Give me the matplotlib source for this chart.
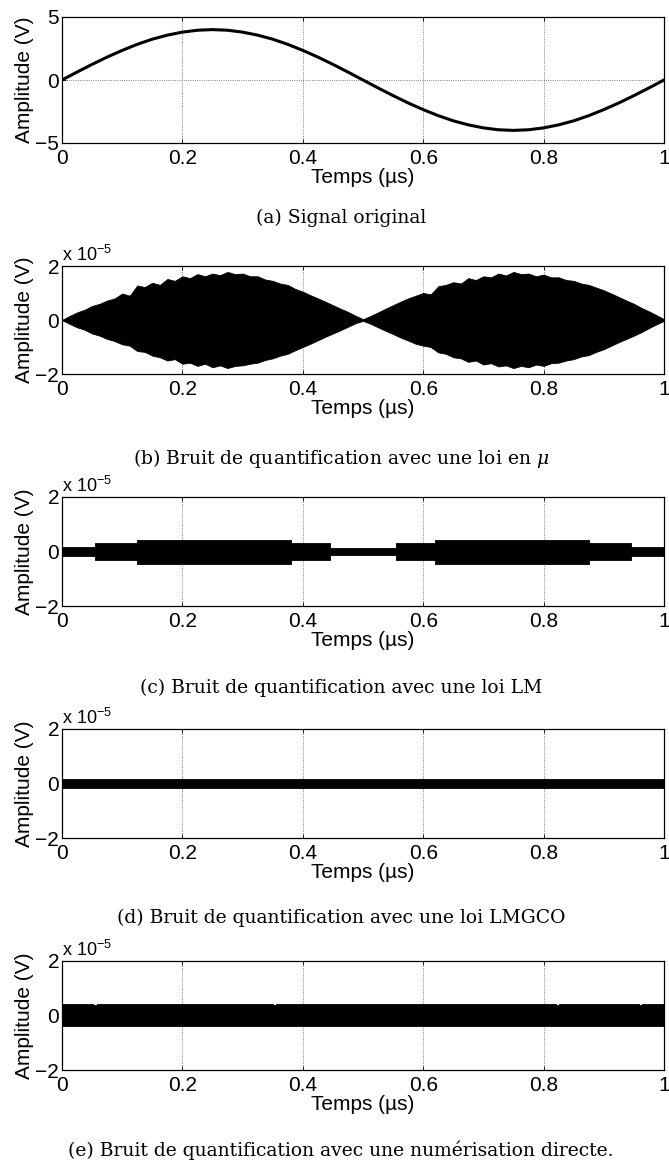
import matplotlib
matplotlib.use("Agg")
import matplotlib.pyplot as plt
import numpy as np

plt.rcParams['font.family'] = ['Liberation Sans', 'DejaVu Sans']
plt.rcParams['mathtext.fontset'] = 'custom'
plt.rcParams['mathtext.rm'] = 'Liberation Sans'
plt.rcParams['mathtext.it'] = 'Liberation Sans:italic'

# time grids of the samples (µs)
t_a = np.linspace(0, 1, 41)
t_b = np.linspace(0, 1, 81)

# (a) original signal, volts
signal_a = [0.0, 0.63, 1.24, 1.82, 2.35, 2.83, 3.24, 3.56, 3.80, 3.95,
            4.0, 3.95, 3.80, 3.56, 3.24, 2.83, 2.35, 1.82, 1.24, 0.63,
            0.0, -0.63, -1.24, -1.82, -2.35, -2.83, -3.24, -3.56, -3.80, -3.95,
            -4.0, -3.95, -3.80, -3.56, -3.24, -2.83, -2.35, -1.82, -1.24, -0.63, 0.0]

# (b) mu-law noise envelope, units of 1e-5 V
upper_b = [0.00, 0.15, 0.28, 0.38, 0.52, 0.60, 0.72, 0.80, 0.98, 0.90,
           1.28, 1.22, 1.38, 1.30, 1.52, 1.45, 1.62, 1.55, 1.70, 1.62,
           1.72, 1.66, 1.78, 1.70, 1.72, 1.62, 1.62, 1.50, 1.45, 1.35,
           1.30, 1.15, 1.05, 0.92, 0.80, 0.68, 0.55, 0.42, 0.30, 0.16,
           0.03,
           0.15, 0.28, 0.42, 0.55, 0.68, 0.80, 0.90, 1.00, 0.95, 1.25,
           1.30, 1.40, 1.35, 1.55, 1.48, 1.62, 1.58, 1.72, 1.65, 1.78,
           1.70, 1.72, 1.62, 1.68, 1.58, 1.58, 1.48, 1.45, 1.35, 1.30,
           1.20, 1.10, 0.98, 0.85, 0.72, 0.60, 0.45, 0.32, 0.18, 0.03]
lower_b = [0.00, -0.14, -0.27, -0.36, -0.50, -0.58, -0.70, -0.78, -0.90, -0.95,
           -1.15, -1.18, -1.32, -1.38, -1.50, -1.45, -1.62, -1.58, -1.70, -1.62,
           -1.75, -1.68, -1.78, -1.70, -1.68, -1.62, -1.58, -1.48, -1.42, -1.32,
           -1.25, -1.12, -1.00, -0.88, -0.75, -0.62, -0.50, -0.38, -0.25, -0.12,
           -0.03,
           -0.14, -0.27, -0.40, -0.52, -0.65, -0.76, -0.88, -0.95, -1.00, -1.20,
           -1.25, -1.38, -1.42, -1.55, -1.50, -1.65, -1.60, -1.72, -1.68, -1.78,
           -1.70, -1.75, -1.65, -1.70, -1.60, -1.58, -1.50, -1.45, -1.35, -1.30,
           -1.18, -1.08, -0.95, -0.82, -0.70, -0.58, -0.45, -0.30, -0.16, -0.03]

# (c) LM law: piecewise levels, units of 1e-5 V
edges_c = [0, 0.055, 0.125, 0.38, 0.445, 0.555, 0.62, 0.875, 0.945, 1.0]
upper_c = [0.17, 0.3, 0.42, 0.3, 0.12, 0.3, 0.42, 0.3, 0.17]
lower_c = [-0.17, -0.3, -0.45, -0.3, -0.12, -0.3, -0.45, -0.3, -0.17]

# (d) LMGCO and (e) direct digitisation, units of 1e-5 V
edges_d = [0, 1.0]
upper_d = [0.17]
lower_d = [-0.17]
edges_e = [0, 0.052, 0.058, 0.35, 0.356, 0.82, 0.826, 0.958, 0.964, 1.0]
upper_e = [0.42, 0.38, 0.42, 0.39, 0.42, 0.39, 0.42, 0.38, 0.42]
lower_e = [-0.37, -0.37, -0.37, -0.37, -0.37, -0.37, -0.37, -0.37, -0.37]

captions = ['(a) Signal original',
            r'(b) Bruit de quantification avec une loi en $\mu$',
            '(c) Bruit de quantification avec une loi LM',
            '(d) Bruit de quantification avec une loi LMGCO',
            '(e) Bruit de quantification avec une numérisation directe.']

W, H = 669, 1160
fig = plt.figure(figsize=(W / 100, H / 100), dpi=100)

# axes boxes in pixels: (top, bottom)
boxes = [(17, 143), (266, 374), (497, 606), (729, 838), (961, 1070)]
caption_y = [218, 458, 688, 918, 1150]
left_px, right_px = 62, 664
fs = 15

axes = []
for top, bottom in boxes:
    ax = fig.add_axes([left_px / W, 1 - bottom / H, (right_px - left_px) / W, (bottom - top) / H])
    axes.append(ax)


def steps(edges, levels):
    xs, ys = [], []
    for i, lv in enumerate(levels):
        xs += [edges[i], edges[i + 1]]
        ys += [lv, lv]
    return np.array(xs), np.array(ys)


ax = axes[0]
ax.plot(t_a, signal_a, color='black', lw=2.2)
ax.set_ylim(-5, 5)
ax.set_yticks([-5, 0, 5])
ax.set_yticklabels(['\u22125', '0', '5'])

ax = axes[1]
ax.fill_between(t_b, np.array(lower_b) * 1e-5, np.array(upper_b) * 1e-5,
                color='black', lw=0.6)

for ax, (ed, up, lo) in zip(axes[2:], [(edges_c, upper_c, lower_c),
                                        (edges_d, upper_d, lower_d),
                                        (edges_e, upper_e, lower_e)]):
    xs, yu = steps(ed, up)
    _, yl = steps(ed, lo)
    ax.fill_between(xs, yl * 1e-5, yu * 1e-5, color='black', lw=0.6)

for ax in axes[1:]:
    ax.set_ylim(-2e-5, 2e-5)
    ax.set_yticks([-2e-5, 0, 2e-5])
    ax.set_yticklabels(['\u22122', '0', '2'])
    ax.text(0.0, 1.01, r'x 10$^{\mathregular{-5}}$', transform=ax.transAxes,
            ha='left', va='bottom', fontsize=13)

for ax, cap, cy in zip(axes, captions, caption_y):
    ax.set_xlim(0, 1)
    ax.set_xticks([0, 0.2, 0.4, 0.6, 0.8, 1])
    ax.set_xticklabels(['0', '0.2', '0.4', '0.6', '0.8', '1'])
    ax.grid(True, linestyle=':', color='0.35', lw=0.6)
    ax.set_axisbelow(True)
    ax.tick_params(direction='in', length=3, width=0.6, labelsize=fs,
                   top=True, right=True)
    ax.tick_params(axis='x', pad=4)
    ax.tick_params(axis='y', pad=2)
    for sp in ax.spines.values():
        sp.set_linewidth(0.9)
    ax.set_xlabel('Temps (µs)', fontsize=fs, labelpad=0)
    ax.set_ylabel('Amplitude (V)', fontsize=fs, labelpad=1)
    fig.text(341 / W, 1 - cy / H, cap, ha='center', va='center', fontsize=13.5,
             family='DejaVu Serif', math_fontfamily='dejavuserif')

fig.savefig('out.png', dpi=100)
